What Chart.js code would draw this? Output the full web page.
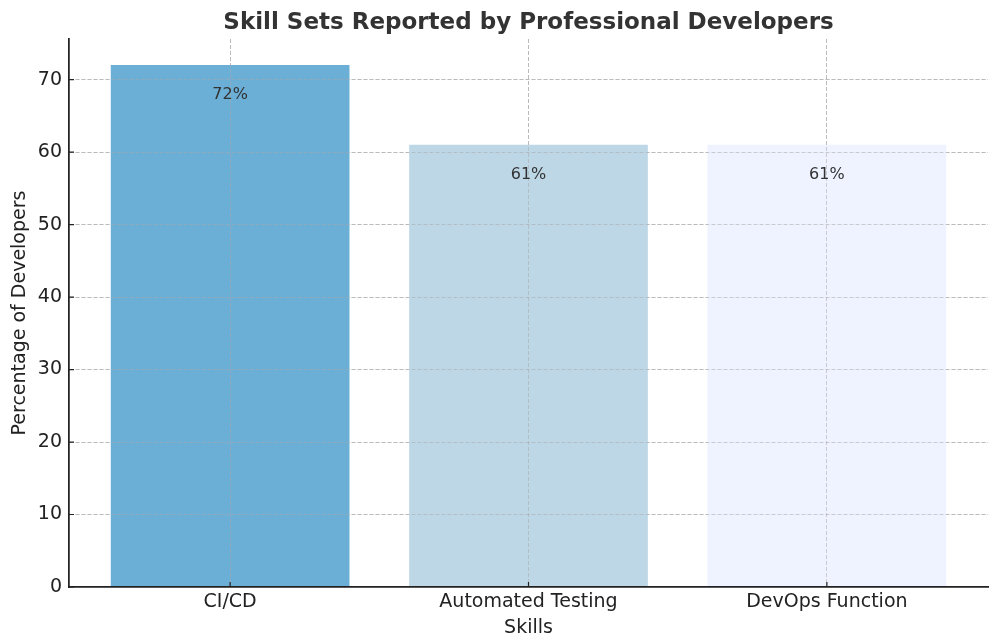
<!DOCTYPE html>
<html>
<head>
<meta charset="utf-8">
<script src="https://cdn.jsdelivr.net/npm/chart.js@4"></script>
<style>
  html, body { margin: 0; padding: 0; background: #fff; }
  #wrap { width: 1000px; height: 643px; }
</style>
</head>
<body>
<div id="wrap"><canvas id="chart"></canvas></div>
<script>
// --- Data ---
const categories = ["CI/CD", "Automated Testing", "DevOps Function"];
const percentages = [72, 61, 61];
const barColors = ["#6baed6", "#bdd7e7", "#eff3ff"];
const yTicks = [0, 10, 20, 30, 40, 50, 60, 70];

const FONT = "DejaVu Sans, sans-serif";
const gridColor = "rgba(170,170,170,0.55)";

// grid over the bars, plus inward tick marks (matplotlib style)
const gridOnTop = {
  id: "gridOnTop",
  afterDatasetsDraw(chart) {
    const area = chart.chartArea;
    const c = chart.ctx;
    ["x", "y"].forEach(id => chart.scales[id].drawGrid(area));

    c.save();
    c.strokeStyle = "#222";
    c.lineWidth = 1.2;
    c.beginPath();
    chart.scales.x.ticks.forEach(t => {
      const px = chart.scales.x.getPixelForValue(t.value);
      c.moveTo(px, area.bottom);
      c.lineTo(px, area.bottom - 5);
    });
    chart.scales.y.ticks.forEach(t => {
      const py = chart.scales.y.getPixelForValue(t.value);
      c.moveTo(area.left, py);
      c.lineTo(area.left + 5, py);
    });
    c.stroke();
    c.restore();

    ["x", "y"].forEach(id => chart.scales[id].drawBorder());
  }
};

// --- Value labels inside bar tops ---
const valueLabels = {
  id: "valueLabels",
  afterDatasetsDraw(chart) {
    const ctx = chart.ctx;
    const yScale = chart.scales.y;
    const meta = chart.getDatasetMeta(0);
    ctx.save();
    ctx.font = `16px ${FONT}`;
    ctx.fillStyle = "#333";
    ctx.textAlign = "center";
    ctx.textBaseline = "top";
    meta.data.forEach((bar, i) => {
      const v = percentages[i];
      ctx.fillText(`${v}%`, bar.x, yScale.getPixelForValue(v - 3));
    });
    ctx.restore();
  }
};

const ctx = document.getElementById("chart").getContext("2d");
new Chart(ctx, {
  type: "bar",
  data: {
    datasets: [{
      data: percentages.map((v, i) => ({ x: i, y: v })),
      backgroundColor: barColors,
      borderWidth: 0,
      barPercentage: 1.0,
      categoryPercentage: 0.8
    }]
  },
  options: {
    responsive: true,
    maintainAspectRatio: false,
    animation: false,
    layout: { padding: { left: 0, right: 12, top: 0, bottom: 0 } },
    plugins: {
      legend: { display: false },
      tooltip: { enabled: false },
      title: {
        display: true,
        fullSize: false,
        text: "Skill Sets Reported by Professional Developers",
        color: "#333",
        font: { size: 23, weight: "bold", family: FONT, lineHeight: 1.2 },
        padding: { top: 9, bottom: 2.4 }
      }
    },
    scales: {
      x: {
        type: "linear",
        min: -0.54,
        max: 2.54,
        offset: false,
        afterBuildTicks: s => { s.ticks = categories.map((c, i) => ({ value: i })); },
        afterFit: s => { s.height = 56; },
        ticks: {
          autoSkip: false,
          maxRotation: 0,
          color: "#222",
          padding: 4,
          font: { size: 19, family: FONT },
          callback: v => categories[v] ?? ""
        },
        grid: {
          offset: false,
          color: gridColor,
          lineWidth: 1,
          drawTicks: false
        },
        border: { display: true, color: "#222", width: 1.5, dash: [4, 2] },
        title: {
          display: true,
          text: "Skills",
          color: "#222",
          font: { size: 19, family: FONT, lineHeight: 1.2 },
          padding: { top: 0, bottom: 3.6 }
        }
      },
      y: {
        min: 0,
        max: 75.6,
        afterBuildTicks: s => { s.ticks = yTicks.map(v => ({ value: v })); },
        afterFit: s => { s.width = 69; },
        ticks: {
          color: "#222",
          padding: 7,
          font: { size: 19, family: FONT }
        },
        grid: {
          color: gridColor,
          lineWidth: 1,
          drawTicks: false
        },
        border: { display: true, color: "#222", width: 1.5, dash: [4, 2] },
        title: {
          display: true,
          text: "Percentage of Developers",
          color: "#222",
          font: { size: 19, family: FONT, lineHeight: 1.2 },
          padding: { top: 8.6, bottom: 0 }
        }
      }
    }
  },
  plugins: [gridOnTop, valueLabels]
});
</script>
</body>
</html>
